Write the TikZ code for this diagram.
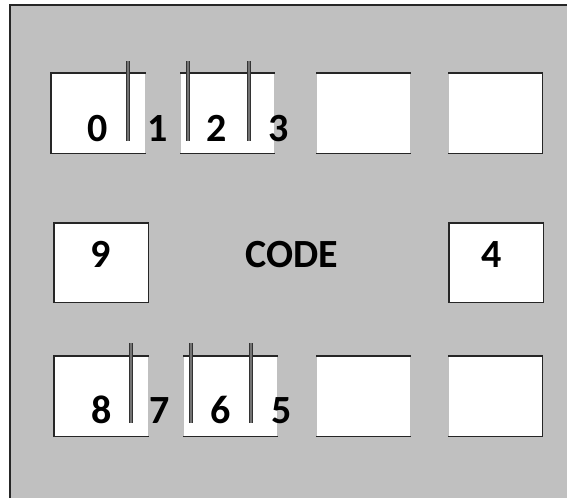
\documentclass[tikz,border=0pt]{standalone}
\usepackage{fontspec}
\setmainfont{Carlito}
\definecolor{panelgray}{HTML}{C0C0C0}

\begin{document}
\begin{tikzpicture}[x=1pt, y=-1pt, line width=1.6pt,
  panel/.style={fill=white, inner sep=0pt, minimum width=93pt,
                minimum height=79pt, anchor=north west},
  edge/.style={draw=black!85},
  bar/.style={draw=black!80, double=black!55, double distance=2pt,
              line width=1.2pt},
  digit/.style={font=\fontsize{40}{44}\selectfont\bfseries,
                anchor=base, inner sep=0pt}]
  \useasboundingbox (0,0) rectangle (567,498);
  % background panel
  \fill[white] (0,0) rectangle (567,498);
  \fill[panelgray] (10,5) rectangle (567,498);
  \draw[edge] (10,498) -- (10,5) -- (567,5);

  % top row
  \node[panel] (b0) at (51,73) {};
  \node[panel] (b2) at (180,73) {};
  \node[panel] (b3) at (316,73) {};
  \node[panel] (b5) at (448,73) {};
  \draw[edge] (b0.south east) -- (b0.south west) -- (b0.north west) -- (b0.north east);
  \draw[edge] (b2.north west) -- (b2.north east);
  \draw[edge] (b2.south west) -- (b2.south east);
  \draw[edge] (b3.north west) -- (b3.north east);
  \draw[edge] (b3.south west) -- (b3.south east);
  \draw[edge] (b5.north west) -- (b5.north east) -- (b5.south east) -- (b5.south west);

  % middle row
  \node[panel, minimum height=78pt] (b9) at (54,223) {};
  \node[panel, minimum height=78pt] (b4) at (449,223) {};
  \draw[edge] (b9.north west) rectangle (b9.south east);
  \draw[edge] (b4.north west) rectangle (b4.south east);

  % bottom row
  \node[panel] (b8) at (54,356) {};
  \node[panel] (b6) at (183,356) {};
  \node[panel] (b7) at (316,356) {};
  \node[panel] (b1) at (448,356) {};
  \draw[edge] (b8.south east) -- (b8.south west) -- (b8.north west) -- (b8.north east);
  \draw[edge] (b6.north west) -- (b6.north east);
  \draw[edge] (b6.south west) -- (b6.south east);
  \draw[edge] (b7.north west) -- (b7.north east);
  \draw[edge] (b7.south west) -- (b7.south east);
  \draw[edge] (b1.north west) -- (b1.north east) -- (b1.south east) -- (b1.south west);

  % sliders
  \draw[bar] (128,61) -- (128,141);
  \draw[bar] (188,61) -- (188,141);
  \draw[bar] (249,61) -- (249,141);
  \draw[bar] (131,343) -- (131,423);
  \draw[bar] (191,343) -- (191,423);
  \draw[bar] (251,343) -- (251,423);

  % labels
  \node[digit] (d0) at (98,141) {0};
  \node[digit] (d1) at (158,141) {1};
  \node[digit] (d2) at (217,141) {2};
  \node[digit] (d3) at (279,141) {3};
  \node[digit] (d9) at (101,267) {9};
  \node[digit] (code) at (292,267) {CODE};
  \node[digit] (d4) at (492,267) {4};
  \node[digit] (d8) at (102,423) {8};
  \node[digit] (d7) at (160,423) {7};
  \node[digit] (d6) at (221,423) {6};
  \node[digit] (d5) at (282,423) {5};
\end{tikzpicture}
\end{document}
